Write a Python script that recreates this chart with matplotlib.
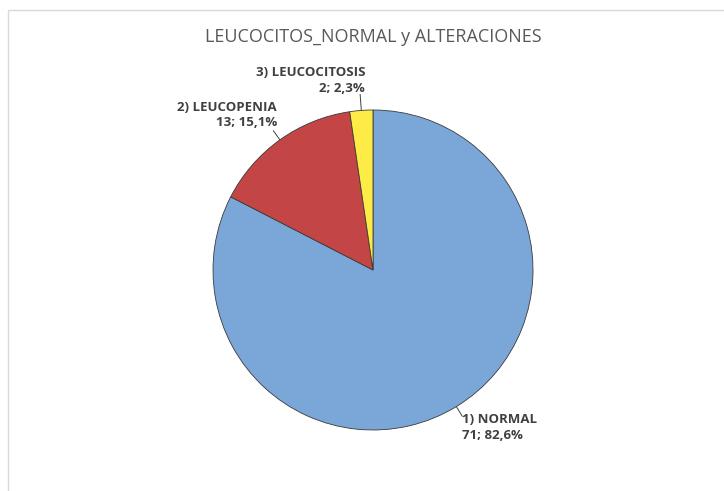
import numpy as np
import matplotlib
matplotlib.use("Agg")
import matplotlib.pyplot as plt
from matplotlib.patches import Rectangle

# datos
categorias = ["1) NORMAL", "2) LEUCOPENIA", "3) LEUCOCITOSIS"]
valores = [71, 13, 2]
porcentajes = ["82,6%", "15,1%", "2,3%"]
colores = ["#7BA6D8", "#C44545", "#FFEB45"]

plt.rcParams['font.family'] = ['Open Sans', 'DejaVu Sans']

W, H = 724, 491
fig = plt.figure(figsize=(W / 100, H / 100), dpi=100)

# marco gris claro del area del grafico
fig.patches.append(Rectangle((8 / W, -0.1), 1.2, 1.1 - 10 / H, transform=fig.transFigure,
                             fill=False, edgecolor="#d9d9d9", linewidth=1))

# ejes: centro (373, 270) px, radio 160 px
cx, cy, r = 373, 270, 160
ax = fig.add_axes([(cx - r) / W, (H - cy - r) / H, 2 * r / W, 2 * r / H])
wedges, _ = ax.pie(valores, colors=colores, startangle=90, counterclock=False,
                   wedgeprops=dict(edgecolor="#3a3a3a", linewidth=0.6))
ax.set_xlim(-1, 1)
ax.set_ylim(-1, 1)
ax.set_aspect('equal')
ax.axis('off')

fig.text(cx / W, 1 - 37 / H, "LEUCOCITOS_NORMAL y ALTERACIONES", ha='center', va='center',
         fontsize=13, color="#595959")

# posicion de etiquetas (anclas de texto, en unidades de radio) y alineacion
anclas = [(0.556, -0.894, 'left', 'top'),
          (-0.60, 0.88, 'right', 'bottom'),
          (-0.05, 1.095, 'right', 'bottom')]
largo_guia = [1.07, 1.07, 1.10]

for w, cat, v, p, (tx, ty, ha, va), lg in zip(wedges, categorias, valores, porcentajes, anclas, largo_guia):
    ang = np.deg2rad((w.theta1 + w.theta2) / 2)
    x0, y0 = np.cos(ang), np.sin(ang)
    ax.plot([x0 * 1.0, x0 * lg], [y0 * 1.0, y0 * lg], color="#404040", lw=0.7, clip_on=False)
    ax.text(tx, ty, f"{cat}\n{v}; {p}", ha=ha, va=va, fontsize=9.5, fontweight='bold',
            color="#404040", linespacing=1.25, clip_on=False)

fig.savefig("out.png", dpi=100)
